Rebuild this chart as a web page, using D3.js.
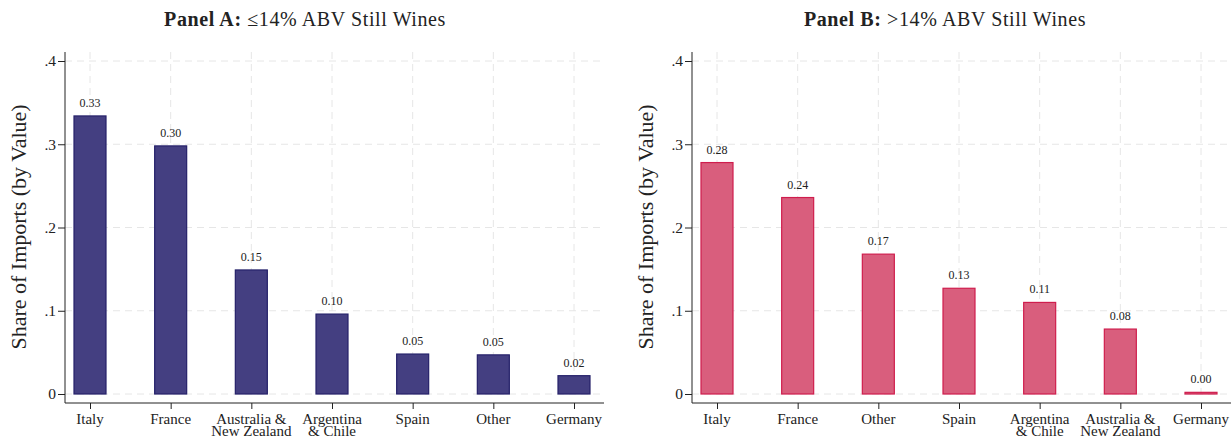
<!DOCTYPE html>
<html>
<head>
<meta charset="utf-8">
<script src="https://cdn.jsdelivr.net/npm/d3@7"></script>
<style>
  body { margin: 0; background: #fff; }
  svg text { font-family: "Liberation Serif", "Times New Roman", serif; fill: #222; }
</style>
</head>
<body>
<svg id="chart" width="1231" height="436"></svg>
<script>
// panel A: <=14% ABV still wines
let catsA = ['Italy', 'France', 'Australia &\nNew Zealand', 'Argentina\n& Chile', 'Spain', 'Other', 'Germany'];
let valsA = [0.334, 0.298, 0.149, 0.096, 0.048, 0.047, 0.022];

// panel B: >14% ABV still wines
let catsB = ['Italy', 'France', 'Other', 'Spain', 'Argentina\n& Chile', 'Australia &\nNew Zealand', 'Germany'];
let valsB = [0.278, 0.236, 0.168, 0.127, 0.110, 0.078, 0.002];

let yTicks = [0, 0.1, 0.2, 0.3, 0.4];
let yTickLabels = ['0', '.1', '.2', '.3', '.4'];

let svg = d3.select('#chart');

function drawPanel(opts) {
    const left = opts.left, right = opts.right;
    const top = 52, base = 403;

    const y = d3.scaleLinear().domain([0, 0.4]).range([394, 61]);
    const x = d3.scalePoint().domain(d3.range(opts.cats.length)).range([left + 25, right - 30]);

    const g = svg.append('g');

    // dashed grid
    g.selectAll('.hgrid').data(yTicks).enter().append('line')
        .attr('x1', left).attr('x2', right)
        .attr('y1', d => y(d)).attr('y2', d => y(d))
        .attr('stroke', '#e6e6e6').attr('stroke-dasharray', '7,5');
    g.selectAll('.vgrid').data(d3.range(opts.cats.length)).enter().append('line')
        .attr('x1', d => x(d)).attr('x2', d => x(d))
        .attr('y1', top).attr('y2', y(0))
        .attr('stroke', '#e6e6e6').attr('stroke-dasharray', '7,5');

    // bars
    const bw = 32;
    g.selectAll('rect').data(opts.vals).enter().append('rect')
        .attr('x', (d, i) => x(i) - bw / 2)
        .attr('y', d => y(d))
        .attr('width', bw)
        .attr('height', d => Math.max(y(0) - y(d), 1))
        .attr('fill', opts.fill)
        .attr('stroke', opts.stroke)
        .attr('stroke-width', 1.2);

    // value labels
    g.selectAll('.vlab').data(opts.vals).enter().append('text')
        .attr('x', (d, i) => x(i))
        .attr('y', d => y(d) - 9)
        .attr('text-anchor', 'middle')
        .attr('font-size', 12)
        .text(d => d.toFixed(2));

    // y axis
    const yAxis = d3.axisLeft(y).tickValues(yTicks).tickSize(7)
        .tickFormat((d, i) => yTickLabels[i]);
    const ya = g.append('g').attr('transform', `translate(${left},0)`).call(yAxis);
    ya.select('.domain').attr('d', `M0,${top}V${base}`).attr('stroke', '#222');
    ya.selectAll('.tick line').attr('stroke', '#222');
    ya.selectAll('.tick text').attr('font-size', 15.5).attr('font-family', '"Liberation Serif", serif').attr('fill', '#222').attr('x', -9);

    // x axis
    const xAxis = d3.axisBottom(x).tickSize(6).tickFormat('');
    const xa = g.append('g').attr('transform', `translate(0,${base})`).call(xAxis);
    xa.select('.domain').attr('d', `M${left},0H${right}`).attr('stroke', '#222');
    xa.selectAll('.tick line').attr('stroke', '#222');

    g.selectAll('.xlab').data(opts.cats).enter().append('text')
        .attr('text-anchor', 'middle')
        .attr('font-size', 15)
        .attr('transform', (d, i) => `translate(${x(i)},${base + 21})`)
        .each(function(d) {
            d.split('\n').forEach((line, k) => {
                d3.select(this).append('tspan').attr('x', 0).attr('dy', k ? 12 : 0).text(line);
            });
        });

    // y title
    svg.append('text')
        .attr('transform', `translate(${left - 39},${227}) rotate(-90)`)
        .attr('text-anchor', 'middle')
        .attr('font-size', 22)
        .text('Share of Imports (by Value)');

    // panel title
    const t = svg.append('text')
        .attr('x', opts.titleX).attr('y', 26)
        .attr('text-anchor', 'middle')
        .attr('font-size', 20)
        .attr('letter-spacing', 0.6);
    t.append('tspan').attr('font-weight', 'bold').text(opts.tag + ' ');
    t.append('tspan').text(opts.title);
}

drawPanel({ left: 65, right: 604, cats: catsA, vals: valsA, fill: '#443f81', stroke: '#25216a',
    titleX: 305, tag: 'Panel A:', title: '\u226414% ABV Still Wines' });
drawPanel({ left: 692, right: 1231, cats: catsB, vals: valsB, fill: '#d95e7d', stroke: '#cf1d4d',
    titleX: 945, tag: 'Panel B:', title: '>14% ABV Still Wines' });
</script>
</body>
</html>
